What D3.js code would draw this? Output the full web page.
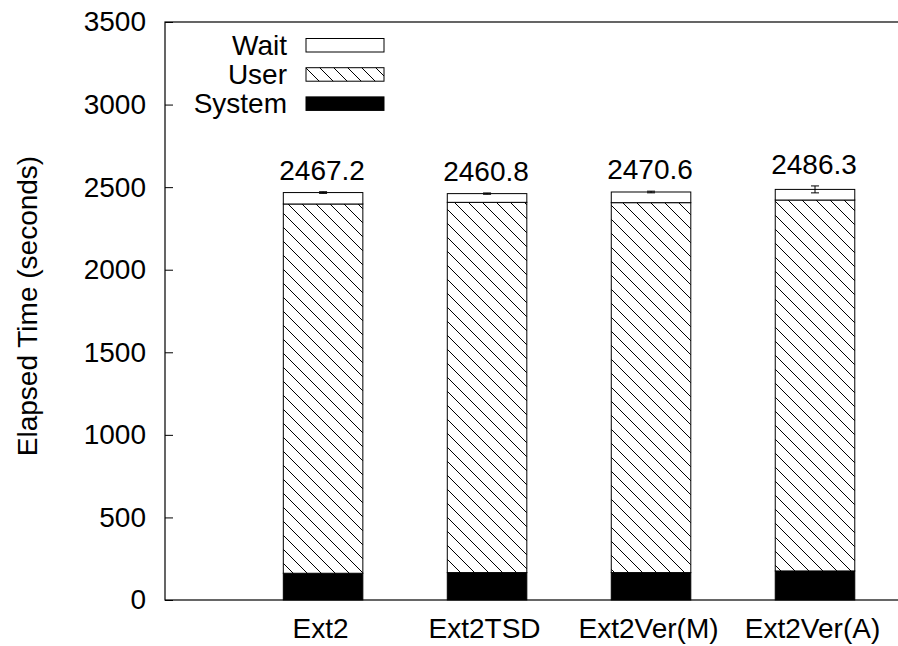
<!DOCTYPE html>
<html>
<head>
<meta charset="utf-8">
<script src="https://cdn.jsdelivr.net/npm/d3@7"></script>
<style>
  html, body { margin: 0; padding: 0; background: #fff; }
  svg { display: block; font-family: "Liberation Sans", Arial, Helvetica, sans-serif; }
</style>
</head>
<body>
<svg id="chart" width="898" height="646"></svg>
<script>
// ---- data ----
const categories = ["Ext2", "Ext2TSD", "Ext2Ver(M)", "Ext2Ver(A)"];
const systemTime = [162, 166, 166, 176];
const userTime   = [2236, 2242, 2240, 2246];
const waitTime   = [69.2, 52.8, 64.6, 64.3];
const totalLabels = ["2467.2", "2460.8", "2470.6", "2486.3"];
const errorSize  = [5, 4, 5, 21];
const yTicks = [0, 500, 1000, 1500, 2000, 2500, 3000, 3500];
const legendNames = ["Wait", "User", "System"];

// ---- layout ----
const mLeft = 165, mRight = 899, mTop = 22, mBottom = 600;
const FS = 28;

const svg = d3.select("#chart");

const defs = svg.append("defs");
const pat = defs.append("pattern")
  .attr("id", "hatch")
  .attr("patternUnits", "userSpaceOnUse")
  .attr("width", 14).attr("height", 14);
pat.append("rect").attr("width", 14).attr("height", 14).attr("fill", "#fff");
pat.append("path")
  .attr("d", "M-1,-1 L15,15 M-8,6 L1,15 M6,-8 L15,1")
  .attr("stroke", "#000").attr("stroke-width", 1);

const x = d3.scaleLinear().domain([-0.964, 3.5]).range([mLeft, 897]);
const y = d3.scaleLinear().domain([0, 3500]).range([mBottom, mTop]);
const barW = x(0.485) - x(0);

// stacked data
const rows = categories.map((c, i) => ({ cat: c, i, system: systemTime[i], user: userTime[i], wait: waitTime[i] }));
const stack = d3.stack().keys(["system", "user", "wait"])(rows);
const fills = { system: "#000", user: "url(#hatch)", wait: "#fff" };

const g = svg.append("g");
stack.forEach(layer => {
  g.selectAll(null).data(layer).enter().append("rect")
    .attr("x", d => x(d.data.i) - barW / 2)
    .attr("width", barW)
    .attr("y", d => y(d[1]))
    .attr("height", d => y(d[0]) - y(d[1]))
    .attr("fill", fills[layer.key])
    .attr("stroke", "#000")
    .attr("stroke-width", 1);
});

// error bars
rows.forEach((r, i) => {
  const tot = r.system + r.user + r.wait;
  const cx = x(i);
  const y1 = y(tot + errorSize[i]), y0 = y(tot - errorSize[i]);
  const eg = svg.append("g").attr("stroke", "#000").attr("stroke-width", 1);
  eg.append("line").attr("x1", cx).attr("x2", cx).attr("y1", y0).attr("y2", y1);
  eg.append("line").attr("x1", cx - 4).attr("x2", cx + 4).attr("y1", y0).attr("y2", y0);
  eg.append("line").attr("x1", cx - 4).attr("x2", cx + 4).attr("y1", y1).attr("y2", y1);
  svg.append("text")
    .attr("x", cx - 1).attr("y", y1 - 12)
    .attr("text-anchor", "middle")
    .attr("font-size", FS)
    .text(totalLabels[i]);
});

// frame
svg.append("rect")
  .attr("x", mLeft).attr("y", mTop)
  .attr("width", mRight - mLeft).attr("height", mBottom - mTop)
  .attr("fill", "none").attr("stroke", "#000").attr("stroke-width", 1.2);

// y axis
const yAxis = d3.axisLeft(y).tickValues(yTicks).tickSize(-8).tickPadding(19).tickFormat(d3.format("d"));
const ya = svg.append("g").attr("transform", `translate(${mLeft},0)`).call(yAxis);
ya.select(".domain").remove();
ya.selectAll("line").attr("stroke", "#000");
ya.selectAll("text").attr("font-size", FS).attr("font-family", "Liberation Sans, Arial, sans-serif").attr("fill", "#000");

// x axis labels
const xAxis = d3.axisBottom(x).tickValues(d3.range(categories.length)).tickSize(0).tickPadding(0).tickFormat(i => categories[i]);
const xa = svg.append("g").attr("transform", `translate(-3,${mBottom})`).call(xAxis);
xa.select(".domain").remove();
xa.selectAll("text").attr("font-size", FS).attr("font-family", "Liberation Sans, Arial, sans-serif").attr("fill", "#000")
  .attr("dy", null).attr("y", 38);

// y title
svg.append("text")
  .attr("transform", `translate(37,306) rotate(-90)`)
  .attr("text-anchor", "middle")
  .attr("font-size", FS)
  .text("Elapsed Time (seconds)");

// legend
const legFill = { Wait: "#fff", User: "url(#hatch)", System: "#000" };
legendNames.forEach((n, k) => {
  const cy = 45 + k * 29.2;
  svg.append("text").attr("x", 287).attr("y", cy + 10).attr("text-anchor", "end").attr("font-size", FS).text(n);
  svg.append("rect").attr("x", 306).attr("y", cy - 6.5).attr("width", 78).attr("height", 13.5)
    .attr("fill", legFill[n]).attr("stroke", "#000").attr("stroke-width", 1);
});
</script>
</body>
</html>
